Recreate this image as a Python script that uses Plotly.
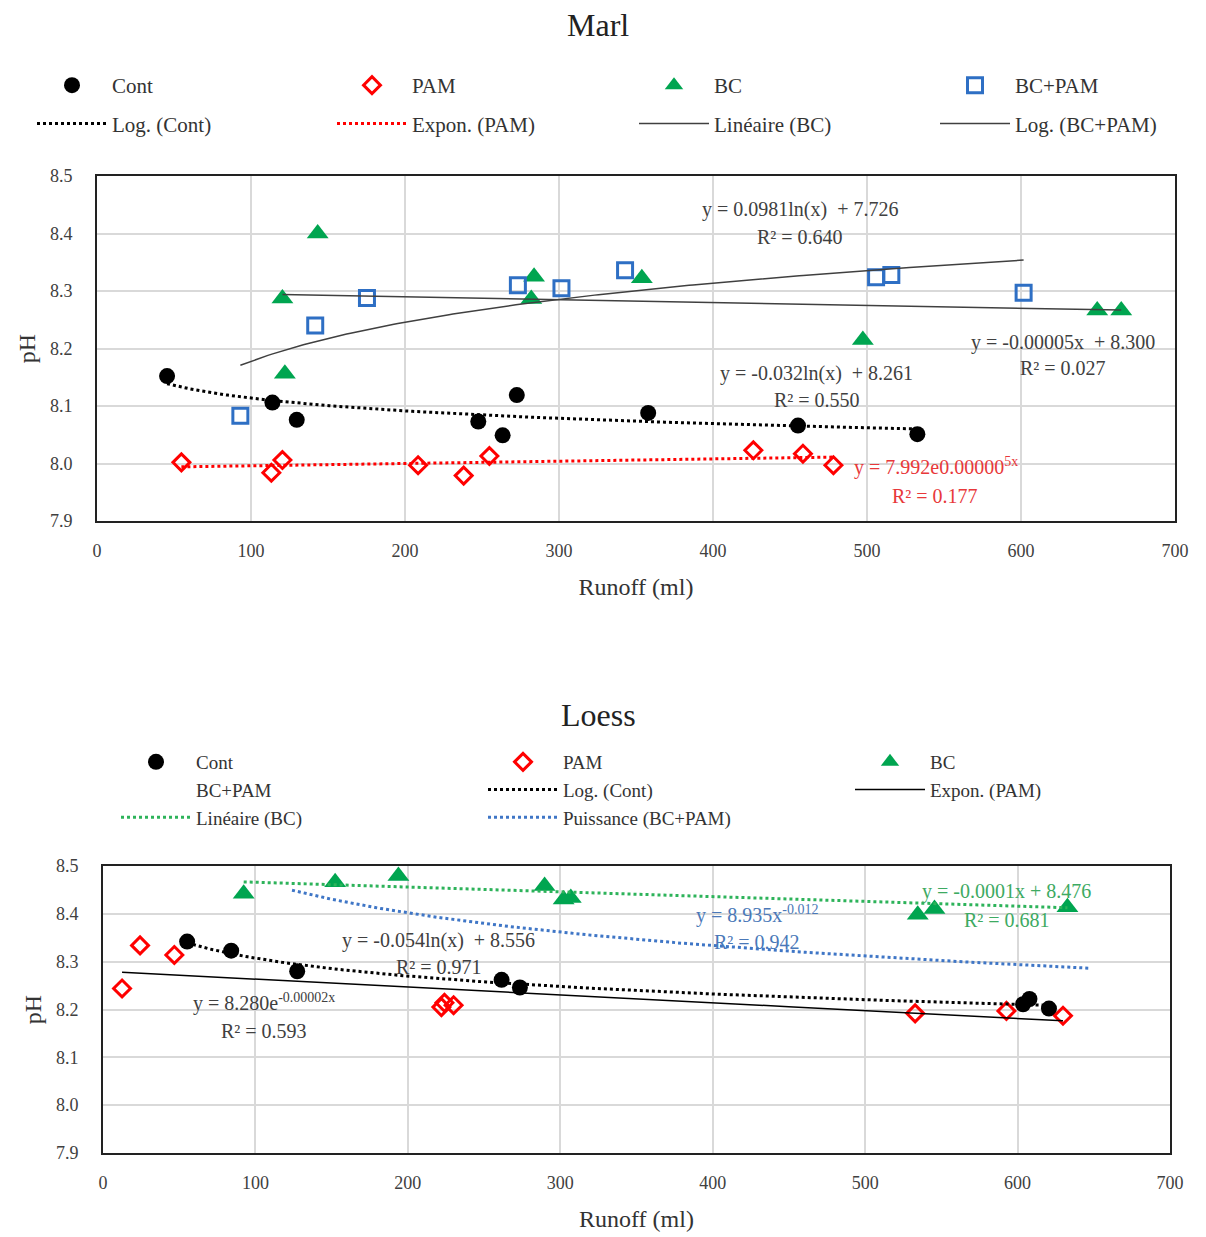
import numpy as np
import plotly.graph_objects as go

# ---------------- DATA ----------------
# Marl
marl_cont_x = [45.5, 113.9, 129.7, 247.6, 263.4, 272.6, 357.9, 455.2, 532.7]
marl_cont_y = [8.152, 8.106, 8.076, 8.073, 8.049, 8.119, 8.088, 8.066, 8.051]
marl_pam_x = [54.8, 113.2, 120.4, 208.5, 238.1, 254.8, 426.2, 458.4, 478.2]
marl_pam_y = [8.002, 7.984, 8.006, 7.997, 7.979, 8.013, 8.023, 8.017, 7.997]
marl_bc_x = [120.4, 122.0, 143.3, 282.0, 283.8, 353.8, 497.3, 649.5, 665.1]
marl_bc_y = [8.287, 8.156, 8.400, 8.286, 8.325, 8.322, 8.215, 8.266, 8.266]
marl_bcpam_x = [93.1, 141.7, 175.3, 273.3, 301.6, 342.9, 505.9, 515.8, 601.7]
marl_bcpam_y = [8.083, 8.240, 8.288, 8.310, 8.305, 8.336, 8.324, 8.328, 8.297]

# Loess
loess_cont_x = [55.2, 84.1, 127.4, 261.5, 273.5, 603.6, 607.8, 620.6]
loess_cont_y = [8.342, 8.323, 8.280, 8.262, 8.246, 8.211, 8.222, 8.202]
loess_pam_x = [12.5, 24.3, 46.8, 222.0, 224.0, 230.0, 532.8, 592.7, 629.8]
loess_pam_y = [8.244, 8.334, 8.314, 8.205, 8.214, 8.209, 8.192, 8.197, 8.187]
loess_bc_x = [92.3, 152.3, 193.8, 289.7, 302.2, 306.9, 534.5, 545.5, 632.7]
loess_bc_y = [8.442, 8.466, 8.479, 8.458, 8.430, 8.433, 8.398, 8.410, 8.414]
loess_bcpam_x = [None]   # series listed in the legend only, no markers drawn
loess_bcpam_y = [None]

# Trendline coefficients
marl_log_cont = [-0.032, 8.261]
marl_exp_pam = [7.992, 0.000005]
marl_lin_bc = [-0.00005, 8.300]
marl_log_bcpam = [0.0981, 7.726]
loess_log_cont = [-0.054, 8.556]
loess_exp_pam = [8.280, -0.00002]
loess_lin_bc = [-0.0001, 8.476]
loess_pow_bcpam = [8.944, -0.0118]
loess_pow_bcpam_range = [124, 648]

x_ticks = [0, 100, 200, 300, 400, 500, 600, 700]
y_ticks = [7.9, 8.0, 8.1, 8.2, 8.3, 8.4, 8.5]

FONT = "Liberation Serif"
BLACK = "#000000"
RED = "#FF0000"
GREEN = "#00A550"
BLUE = "#2E6FC4"
GRAY = "#404040"
NONE = "rgba(0,0,0,0)"


def span(xs):
    return np.linspace(min(xs), max(xs), 200)


def logfit(c, xs):
    return c[0] * np.log(xs) + c[1]


def expfit(c, xs):
    return c[0] * np.exp(c[1] * xs)


def linfit(c, xs):
    return c[0] * xs + c[1]


def powfit(c, xs):
    return c[0] * np.power(xs, c[1])


fig = go.Figure()

CIRCLE = dict(symbol="circle", size=16, color=BLACK)
DIAMOND = dict(symbol="diamond-open", size=13, color=RED, line=dict(width=3, color=RED))
TRIANGLE = dict(symbol="triangle-up", size=19, color=GREEN)
SQUARE = dict(symbol="square-open", size=15, color=BLUE, line=dict(width=3, color=BLUE))


def add(x, y, name, leg, axes, marker=None, line=None, grp=None):
    fig.add_trace(go.Scatter(
        x=x, y=y, name=name, mode="markers" if marker else "lines",
        marker=marker, line=line, xaxis=axes[0], yaxis=axes[1],
        legend=leg, legendgroup=grp or (leg + name)))


T = ("x", "y")
B = ("x2", "y2")

# ---------- Marl ----------
add(marl_cont_x, marl_cont_y, "Cont", "legend", T, marker=CIRCLE)
add(marl_pam_x, marl_pam_y, "PAM", "legend2", T, marker=DIAMOND)
add(marl_bc_x, marl_bc_y, "BC", "legend3", T, marker=TRIANGLE)
add(marl_bcpam_x, marl_bcpam_y, "BC+PAM", "legend4", T, marker=SQUARE)
xs = span(marl_cont_x)
add(xs, logfit(marl_log_cont, xs), "Log. (Cont)", "legend", T, line=dict(color=BLACK, width=3, dash="dot"))
xs = span(marl_pam_x)
add(xs, expfit(marl_exp_pam, xs), "Expon. (PAM)", "legend2", T, line=dict(color=RED, width=3, dash="dot"))
xs = span(marl_bc_x)
add(xs, linfit(marl_lin_bc, xs), "Linéaire (BC)", "legend3", T, line=dict(color=GRAY, width=1.5))
xs = span(marl_bcpam_x)
add(xs, logfit(marl_log_bcpam, xs), "Log. (BC+PAM)", "legend4", T, line=dict(color=GRAY, width=1.5))

# ---------- Loess ----------
add(loess_cont_x, loess_cont_y, "Cont", "legend5", B, marker=CIRCLE)
add(loess_pam_x, loess_pam_y, "PAM", "legend6", B, marker=DIAMOND)
add(loess_bc_x, loess_bc_y, "BC", "legend7", B, marker=TRIANGLE)
add(loess_bcpam_x, loess_bcpam_y, "BC+PAM", "legend5", B,
    marker=dict(symbol="square-open", size=15, color=NONE, line=dict(width=0, color=NONE)))
xs = span(loess_cont_x)
add(xs, logfit(loess_log_cont, xs), "Log. (Cont)", "legend6", B, line=dict(color=BLACK, width=3, dash="dot"))
xs = span(loess_pam_x)
add(xs, expfit(loess_exp_pam, xs), "Expon. (PAM)", "legend7", B, line=dict(color=BLACK, width=1.5))
xs = span(loess_bc_x)
add(xs, linfit(loess_lin_bc, xs), "Linéaire (BC)", "legend5", B, line=dict(color="#2DB35A", width=3, dash="dot"))
xs = span(loess_pow_bcpam_range)
add(xs, powfit(loess_pow_bcpam, xs), "Puissance (BC+PAM)", "legend6", B,
    line=dict(color="#3F76C6", width=3, dash="dot"))

# page body has an 8px margin: the figure is drawn offset by 8px
OFF = 8
W, H = 1206 - OFF, 1237 - OFF


def px(v):
    return (v - OFF) / W


def py(v):
    return 1 - (v - OFF) / H


axis_common = dict(
    showgrid=True, gridcolor="#d9d9d9", gridwidth=1.5,
    showline=True, linecolor="#222222", linewidth=2, mirror=True,
    zeroline=False, automargin=False,
    tickfont=dict(family=FONT, size=18, color="#404040"),
    ticks="outside", tickcolor="rgba(0,0,0,0)",
)

xaxis_tmpl = dict(axis_common, range=[0, 700], tickvals=x_ticks, ticklen=12)
yaxis_tmpl = dict(axis_common, range=[7.9, 8.5], tickvals=y_ticks, tickformat=".1f", ticklen=19)

title_font = dict(family=FONT, size=24, color="#333333")


def legend(xpix, ytop, size, gap):
    return dict(orientation="v", x=px(xpix), y=py(ytop),
                xanchor="left", yanchor="top", itemwidth=70, tracegroupgap=gap,
                font=dict(family=FONT, size=size, color="#333333"),
                bgcolor="rgba(0,0,0,0)", itemclick=False, itemdoubleclick=False)


TOP_Y = 65
BOT_Y = 743
fig.update_layout(
    width=W, height=H,
    margin=dict(l=0, r=0, t=0, b=0),
    paper_bgcolor="white", plot_bgcolor="white",
    font=dict(family=FONT),
    xaxis=dict(xaxis_tmpl, domain=[px(97), px(1175)], anchor="y",
               title=dict(text="Runoff (ml)", font=title_font, standoff=19)),
    yaxis=dict(yaxis_tmpl, domain=[py(521), py(176)], anchor="x",
               title=dict(text="pH", font=title_font, standoff=8)),
    xaxis2=dict(xaxis_tmpl, domain=[px(103), px(1170)], anchor="y2",
                title=dict(text="Runoff (ml)", font=title_font, standoff=19)),
    yaxis2=dict(yaxis_tmpl, domain=[py(1153), py(866)], anchor="x2",
                title=dict(text="pH", font=title_font, standoff=8)),
    legend=legend(32, TOP_Y, 21, 8),
    legend2=legend(332, TOP_Y, 21, 8),
    legend3=legend(634, TOP_Y, 21, 8),
    legend4=legend(935, TOP_Y, 21, 8),
    legend5=legend(116, BOT_Y, 19, 0),
    legend6=legend(483, BOT_Y, 19, 0),
    legend7=legend(850, BOT_Y, 19, 0),
    showlegend=True,
)

ann = []


def eq(text, x, y, ref, color="#404040"):
    ann.append(dict(text=text, x=x, y=y, xref=ref[0], yref=ref[1], showarrow=False,
                    font=dict(family=FONT, size=20, color=color), xanchor="center", yanchor="middle"))


eq("y = 0.0981ln(x)  + 7.726", 456.5, 8.441, T)
eq("R² = 0.640", 456.5, 8.394, T)
eq("y = -0.00005x  + 8.300", 627.3, 8.211, T)
eq("R² = 0.027", 627.3, 8.166, T)
eq("y = -0.032ln(x)  + 8.261", 467.5, 8.156, T)
eq("R² = 0.550", 467.5, 8.110, T)
eq("y = 7.992e0.00000<sup>5x</sup>", 544.8, 7.994, T, "#E8383A")
eq("R² = 0.177", 544.2, 7.943, T, "#E8383A")

eq("y = -0.054ln(x)  + 8.556", 220.3, 8.345, B)
eq("R² = 0.971", 220.3, 8.289, B)
eq("y = 8.280e<sup>-0.00002x</sup>", 105.6, 8.215, B)
eq("R² = 0.593", 105.6, 8.155, B)
eq("y = 8.935x<sup>-0.012</sup>", 428.9, 8.399, B, "#4A78B8")
eq("R² = 0.942", 428.9, 8.341, B, "#4A78B8")
eq("y = -0.0001x + 8.476", 592.8, 8.446, B, "#3DAA62")
eq("R² = 0.681", 592.8, 8.387, B, "#3DAA62")

ann.append(dict(text="Marl", x=px(598), y=py(25), xref="paper", yref="paper", showarrow=False,
                font=dict(family=FONT, size=32, color="#222222"), xanchor="center", yanchor="middle"))
ann.append(dict(text="Loess", x=px(598), y=py(715), xref="paper", yref="paper", showarrow=False,
                font=dict(family=FONT, size=32, color="#222222"), xanchor="center", yanchor="middle"))

fig.update_layout(annotations=ann)

fig.write_html("out.html")
